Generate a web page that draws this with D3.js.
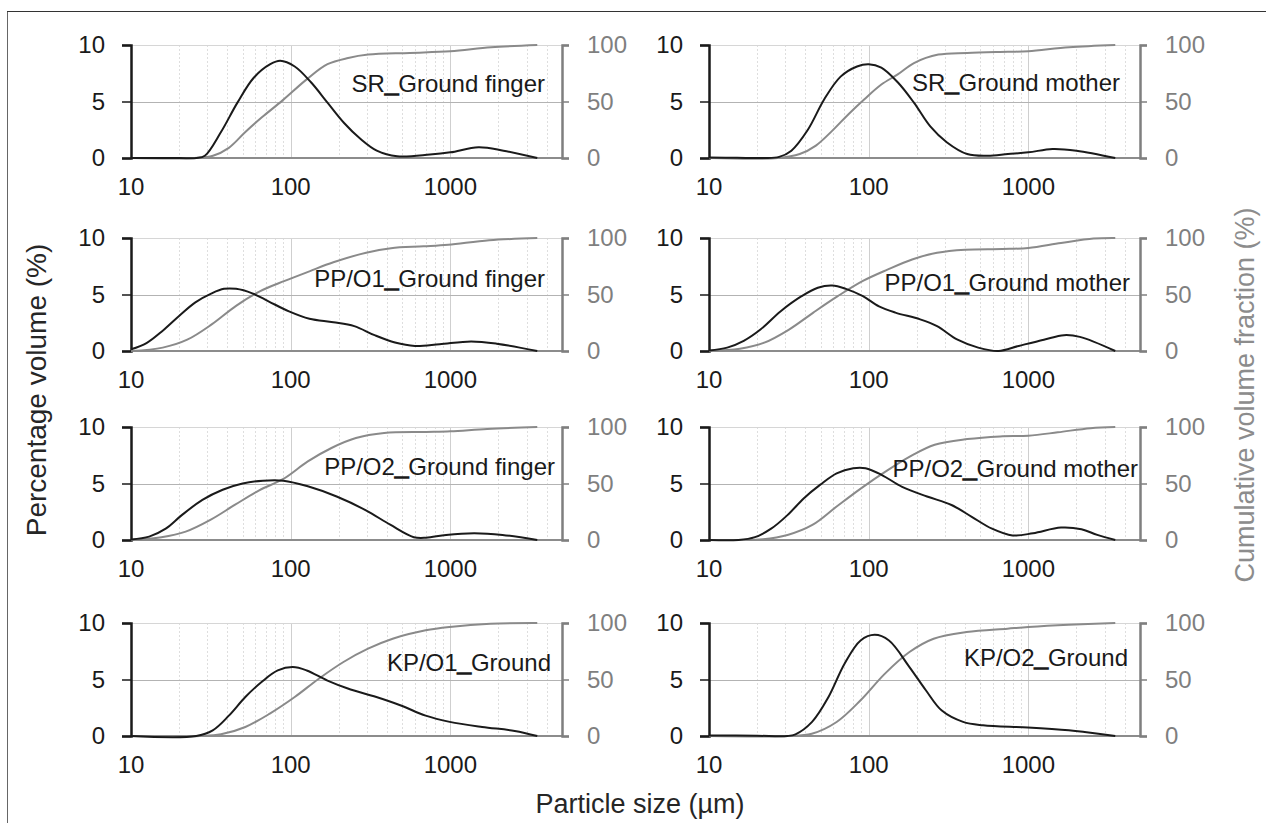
<!DOCTYPE html>
<html><head><meta charset="utf-8">
<script src="https://cdn.jsdelivr.net/npm/d3@7"></script>
<style>
body{margin:0;background:#fff;}
svg{display:block;font-family:"Liberation Sans",Arial,sans-serif;}
</style>
</head><body>
<svg id="chart" width="1266" height="823"></svg>
<script>
// ---------- DATA ----------
const sizeTicks = [10, 100, 1000];
const pvTicks = [0, 5, 10];
const cumTicks = [0, 50, 100];
const minorSizes = [20,30,40,50,60,70,80,90,200,300,400,500,600,700,800,900,2000,3000,4000];

const panelNames = [
  ["SR", "Ground finger"], ["SR", "Ground mother"],
  ["PP/O1", "Ground finger"], ["PP/O1", "Ground mother"],
  ["PP/O2", "Ground finger"], ["PP/O2", "Ground mother"],
  ["KP/O1", "Ground"], ["KP/O2", "Ground"]
];

// percentage volume (%) vs particle size (µm)
const pvSRfinger = [[10,0],[20,0],[25.7,0],[29,0.2],[36.6,2.3],[46.4,4.9],[58.7,7.1],[74.5,8.3],[86,8.6],[106,8.1],[134,6.7],[170,4.9],[216,3.1],[273,1.7],[346,0.65],[464,0.15],[745,0.3],[1000,0.5],[1500,0.95],[2150,0.65],[3500,0]];
const pvSRmother = [[10,0.05],[15,0.02],[22,0],[27.5,0.1],[32.8,0.65],[41.6,2.5],[52.7,5.2],[66.7,7.2],[84.5,8.1],[100,8.3],[120,8.0],[152,6.7],[192,4.9],[243,2.8],[308,1.4],[414,0.35],[556,0.2],[745,0.35],[1000,0.5],[1415,0.8],[2000,0.65],[3500,0]];
const pvPPO1finger = [[10,0.15],[12.5,0.7],[15.8,1.8],[20,3.1],[25.3,4.3],[32,5.1],[38.2,5.5],[45.5,5.5],[57.5,5.1],[72.6,4.4],[97.6,3.5],[131,2.85],[185,2.55],[250,2.2],[335,1.4],[450,0.75],[600,0.45],[855,0.6],[1350,0.85],[1950,0.65],[3500,0]];
const pvPPO1mother = [[10,0.05],[13,0.3],[16.5,0.9],[21,1.9],[28,3.5],[38,4.85],[48,5.6],[59,5.8],[72,5.5],[92,4.85],[116,3.95],[147,3.4],[210,2.8],[268,2.2],[360,1.0],[485,0.3],[650,0],[870,0.45],[1250,1.0],[1670,1.4],[2100,1.25],[3500,0]];
const pvPPO2finger = [[10,0.05],[13,0.3],[16.5,1.0],[20.8,2.2],[28,3.55],[37.5,4.45],[50,5.0],[67,5.25],[90,5.25],[128,4.75],[194,3.85],[294,2.65],[420,1.35],[590,0.25],[705,0.2],[940,0.45],[1410,0.6],[2120,0.45],[3500,0]];
const pvPPO2mother = [[10,0],[15.3,0],[19.4,0.25],[24.5,1.0],[31,2.2],[39.3,3.7],[49.8,4.9],[63,5.9],[80,6.35],[95.6,6.35],[121,5.75],[162,4.7],[232,3.85],[330,3.1],[442,2.05],[592,1.0],[795,0.4],[1070,0.6],[1600,1.1],[2150,0.95],[2700,0.45],[3500,0]];
const pvKPO1 = [[10,0],[25.6,0],[32.5,0.5],[41,1.8],[52,3.45],[66,4.8],[83,5.8],[103,6.1],[126,5.8],[170,4.9],[228,4.2],[344,3.45],[490,2.7],[700,1.8],[990,1.25],[1580,0.8],[2530,0.45],[3500,0]];
const pvKPO2 = [[10,0.05],[20,0.02],[31,0],[34.8,0.15],[44.2,1.25],[56,3.45],[70.6,6.4],[89,8.45],[109,8.95],[134,8.45],[180,6.1],[228,4.05],[287,2.25],[390,1.25],[520,0.95],[990,0.75],[1790,0.5],[2250,0.35],[3500,0]];

// cumulative volume fraction (%) vs particle size (µm)
const cumSRfinger = [[10,0],[25,0],[32.6,2],[41,9],[52,23],[66,36],[89,51],[127,70],[170,83],[229,88.5],[306,91.5],[557,93],[1000,94.4],[1800,98],[3500,100]];
const cumSRmother = [[10,0],[27,0],[37,3.5],[46.7,11],[59,24],[75,39],[94,52],[120,65],[152,74],[192,84],[273,91.5],[414,93],[745,94],[1000,94.5],[1800,98],[3500,100]];
const cumPPO1finger = [[10,0],[15.8,3],[22.5,10],[32,23.5],[45.5,40],[64.5,53],[91.7,62],[131,70.5],[185,78.5],[297,87],[425,91],[680,92.6],[970,94],[1750,98],[3500,100]];
const cumPPO1mother = [[10,0],[15.6,2],[22.2,7.4],[31.7,19],[45,34],[64,48.5],[92,62],[131,72],[187,81],[268,87],[402,89.7],[685,90.3],[1000,91.2],[1600,95.6],[2560,99.5],[3500,100]];
const cumPPO2finger = [[10,0],[15.5,2.4],[22,7.4],[31.4,17.8],[44.6,31],[63.5,44],[90,54],[128,69.5],[180,81.4],[256,90.2],[385,94.7],[705,95.6],[1000,96.2],[1700,98.2],[3500,100]];
const cumPPO2mother = [[10,0],[15,0],[21.8,0.6],[31,4.4],[44.4,13.3],[63,29.6],[90,45.9],[128,60.7],[182,74],[259,84.3],[415,89.3],[665,91.7],[1000,92.3],[1530,95.3],[2450,99],[3500,100]];
const cumKPO1 = [[10,0],[27,0],[36.6,1.5],[52,8],[74,19.8],[106,34.5],[150,50.7],[214,65.5],[305,77.3],[435,86.1],[700,93.5],[990,96.5],[1780,99.4],[3500,100]];
const cumKPO2 = [[10,0],[31,0],[44,2],[63,12.4],[89,31.6],[126,55],[180,74.3],[255,86.1],[410,92],[740,95],[1000,96.5],[1790,98.5],[3500,100]];

const pvSeries = [pvSRfinger, pvSRmother, pvPPO1finger, pvPPO1mother, pvPPO2finger, pvPPO2mother, pvKPO1, pvKPO2];
const cumSeries = [cumSRfinger, cumSRmother, cumPPO1finger, cumPPO1mother, cumPPO2finger, cumPPO2mother, cumKPO1, cumKPO2];

// ---------- LAYOUT ----------
const cols = [{x0:131, x1:562}, {x0:709, x1:1140}];
const rows = [{y0:45, y1:158}, {y0:238, y1:351}, {y0:427, y1:540}, {y0:623, y1:736}];
const labelPos = [[-17,47],[-20,46],[-17,49],[-10,53],[-7,48],[-2,50],[-11,48],[-12,43]];

const C_BLACK = "#1a1a1a", C_GRAY = "#7f7f7f";
const svg = d3.select("#chart");

// outer frame (top and left)
svg.append("line").attr("x1",7.5).attr("x2",7.5).attr("y1",11).attr("y2",823).attr("stroke","#666").attr("stroke-width",1);
svg.append("line").attr("x1",7).attr("x2",1266).attr("y1",11.5).attr("y2",11.5).attr("stroke","#333").attr("stroke-width",1.2);

panelNames.forEach((nm, i) => {
  const c = cols[i % 2], r = rows[Math.floor(i / 2)];
  const x = d3.scaleLog().domain([10, 5000]).range([c.x0, c.x1]);
  const y = d3.scaleLinear().domain([0, 10]).range([r.y1, r.y0]);
  const y2 = d3.scaleLinear().domain([0, 100]).range([r.y1, r.y0]);
  const g = svg.append("g");

  // minor vertical gridlines
  g.selectAll(".minor").data(minorSizes).join("line")
    .attr("x1", d => Math.round(x(d)) + 0.5).attr("x2", d => Math.round(x(d)) + 0.5)
    .attr("y1", r.y0).attr("y2", r.y1)
    .attr("stroke", "#dedede").attr("stroke-width", 1).attr("stroke-dasharray", "2,2");
  // major vertical gridlines
  g.selectAll(".major").data([100, 1000]).join("line")
    .attr("x1", d => Math.round(x(d)) + 0.5).attr("x2", d => Math.round(x(d)) + 0.5)
    .attr("y1", r.y0).attr("y2", r.y1)
    .attr("stroke", "#cfcfcf").attr("stroke-width", 1);
  // horizontal gridlines
  g.selectAll(".hgrid").data([5, 10]).join("line")
    .attr("x1", c.x0).attr("x2", c.x1)
    .attr("y1", d => Math.round(y(d)) + 0.5).attr("y2", d => Math.round(y(d)) + 0.5)
    .attr("stroke", d => d === 5 ? "#b3b3b3" : "#d6d6d6").attr("stroke-width", 1);

  // bottom axis line
  g.append("line").attr("x1", c.x0).attr("x2", c.x1).attr("y1", r.y1).attr("y2", r.y1)
    .attr("stroke", "#8c8c8c").attr("stroke-width", 2);

  // x tick labels
  g.selectAll(".xl").data(sizeTicks).join("text")
    .attr("x", d => x(d)).attr("y", r.y1 + 37)
    .attr("text-anchor", "middle").attr("font-size", 24).attr("fill", C_BLACK)
    .text(d => d);

  // left axis
  const la = g.append("g").attr("transform", `translate(${c.x0},0)`)
    .call(d3.axisLeft(y).tickValues(pvTicks).tickSize(9).tickPadding(17).tickFormat(d3.format("d")));
  la.select(".domain").attr("stroke", C_BLACK).attr("stroke-width", 2.5);
  la.selectAll(".tick line").attr("stroke", C_BLACK).attr("stroke-width", 1.5);
  la.selectAll(".tick text").attr("font-size", 24).attr("fill", C_BLACK);
  la.attr("font-family", null);

  // right axis
  const ra = g.append("g").attr("transform", `translate(${c.x1},0)`)
    .call(d3.axisRight(y2).tickValues(cumTicks).tickSize(7).tickPadding(18).tickFormat(d3.format("d")));
  ra.select(".domain").attr("stroke", C_GRAY).attr("stroke-width", 2.5);
  ra.selectAll(".tick line").attr("stroke", C_GRAY).attr("stroke-width", 1.5);
  ra.selectAll(".tick text").attr("font-size", 24).attr("fill", C_GRAY);
  ra.attr("font-family", null);

  // curves
  const lineCum = d3.line().x(d => x(d[0])).y(d => y2(d[1])).curve(d3.curveCatmullRom.alpha(0.5));
  const linePv = d3.line().x(d => x(d[0])).y(d => y(d[1])).curve(d3.curveCatmullRom.alpha(0.5));
  g.append("path").attr("d", lineCum(cumSeries[i])).attr("fill", "none")
    .attr("stroke", "#8a8a8a").attr("stroke-width", 2);
  g.append("path").attr("d", linePv(pvSeries[i])).attr("fill", "none")
    .attr("stroke", C_BLACK).attr("stroke-width", 2);

  // panel label
  const t = g.append("text").attr("x", c.x1 + labelPos[i][0]).attr("y", r.y0 + labelPos[i][1])
    .attr("text-anchor", "end").attr("font-size", 24).attr("fill", C_BLACK);
  t.append("tspan").text(nm[0]);
  t.append("tspan").attr("font-weight", "bold").attr("stroke", C_BLACK).attr("stroke-width", 1.6).text("_");
  t.append("tspan").text(nm[1]);
});

// axis titles
svg.append("text").attr("transform", "translate(46,390) rotate(-90)")
  .attr("text-anchor", "middle").attr("font-size", 28).attr("fill", "#262626")
  .text("Percentage volume (%)");
svg.append("text").attr("transform", "translate(1254,395) rotate(-90)")
  .attr("text-anchor", "middle").attr("font-size", 27).attr("fill", "#8c8c8c")
  .text("Cumulative volume fraction (%)");
svg.append("text").attr("x", 640).attr("y", 813)
  .attr("text-anchor", "middle").attr("font-size", 27).attr("fill", "#262626")
  .text("Particle size (µm)");
</script>
</body></html>
